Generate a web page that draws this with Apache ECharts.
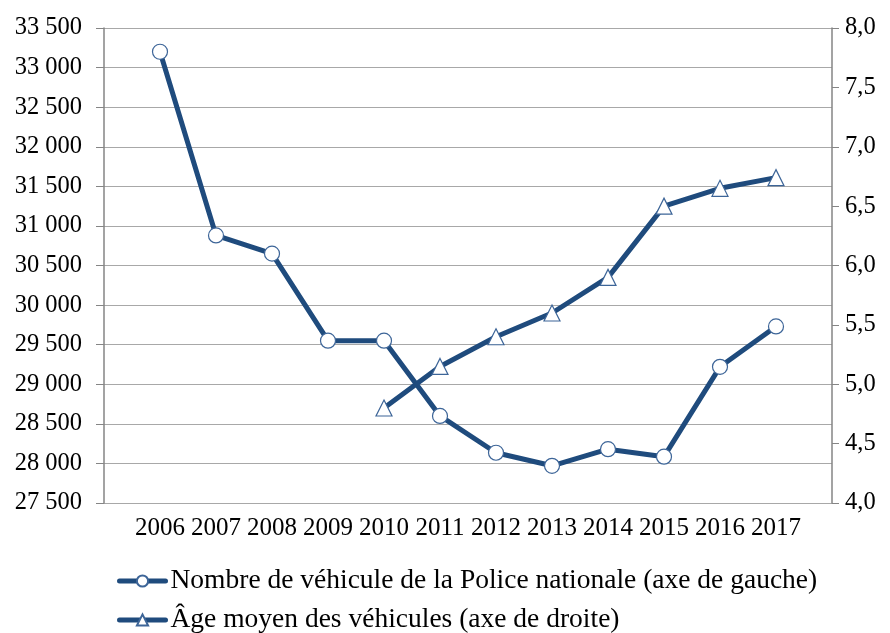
<!DOCTYPE html>
<html>
<head>
<meta charset="utf-8">
<script src="https://cdn.jsdelivr.net/npm/echarts@6/dist/echarts.min.js"></script>
<style>
  html, body { margin: 0; padding: 0; background: #ffffff; }
  #chart { width: 890px; height: 633px; }
</style>
</head>
<body>
<div id="chart"></div>
<script>
// Parc automobile de la Police nationale, 2006-2017
const years = [2006, 2007, 2008, 2009, 2010, 2011, 2012, 2013, 2014, 2015, 2016, 2017];
const vehicleCount = [33200, 30880, 30650, 29550, 29550, 28600, 28135, 27970, 28180, 28085, 29220, 29730];
const averageAge = [null, null, null, null, 4.8, 5.15, 5.4, 5.6, 5.9, 6.5, 6.65, 6.74];
const countName = 'Nombre de véhicule de la Police nationale (axe de gauche)';
const ageName = 'Âge moyen des véhicules (axe de droite)';

const FONT = 'Liberation Serif';
const BLUE = '#1f4b7d';

const pairs = (vals) => years.map((y, i) => [y, vals[i]]);
const thousands = (v) => String(v).replace(/\B(?=(\d{3})+(?!\d))/g, ' ');

const legendBase = {
  left: 115,
  itemWidth: 46,
  itemHeight: 14,
  itemGap: 10,
  padding: 2,
  lineStyle: { width: 5, cap: 'round' },
  textStyle: { fontFamily: FONT, fontSize: 27.5, color: '#000' }
};

const chart = echarts.init(document.getElementById('chart'), null, { renderer: 'canvas' });
chart.setOption({
  animation: false,
  backgroundColor: '#ffffff',
  textStyle: { fontFamily: FONT, color: '#000' },
  grid: { left: 104, right: 58, top: 28, bottom: 130, containLabel: false },
  legend: [
    Object.assign({ top: 565, data: [countName] }, legendBase),
    Object.assign({ top: 604, data: [ageName] }, legendBase)
  ],
  xAxis: {
    type: 'value',
    min: 2005,
    max: 2018,
    interval: 1,
    axisLine: { show: false },
    axisTick: { show: false },
    splitLine: { show: false },
    axisLabel: {
      showMinLabel: false,
      showMaxLabel: false,
      fontFamily: FONT,
      fontSize: 25,
      color: '#000',
      margin: 13,
      formatter: (v) => String(v)
    }
  },
  yAxis: [
    {
      type: 'value',
      min: 27500,
      max: 33500,
      interval: 500,
      axisLine: { show: true, lineStyle: { color: '#858585', width: 1.5 } },
      axisTick: { show: true, length: 8, lineStyle: { color: '#858585' } },
      splitLine: { show: true, lineStyle: { color: '#a8a8a8', width: 1 } },
      axisLabel: {
        fontFamily: FONT, fontSize: 24.5, color: '#000', margin: 22,
        formatter: (v) => thousands(v)
      }
    },
    {
      type: 'value',
      min: 4,
      max: 8,
      interval: 0.5,
      position: 'right',
      axisLine: { show: true, lineStyle: { color: '#858585', width: 1.5 } },
      axisTick: { show: true, length: 7, lineStyle: { color: '#858585' } },
      splitLine: { show: false },
      axisLabel: {
        fontFamily: FONT, fontSize: 24.5, color: '#000', margin: 13,
        formatter: (v) => v.toFixed(1).replace('.', ',')
      }
    }
  ],
  series: [
    {
      name: countName,
      type: 'line',
      yAxisIndex: 0,
      data: pairs(vehicleCount),
      symbol: 'circle',
      symbolSize: 15,
      lineStyle: { color: BLUE, width: 5, cap: 'round' },
      itemStyle: { color: '#ffffff', borderColor: '#3d6598', borderWidth: 1.2 },
      z: 3
    },
    {
      name: ageName,
      type: 'line',
      yAxisIndex: 1,
      data: pairs(averageAge),
      symbol: 'triangle',
      symbolSize: 16,
      lineStyle: { color: BLUE, width: 5, cap: 'round' },
      itemStyle: { color: '#ffffff', borderColor: '#3d6598', borderWidth: 1.2 },
      z: 3
    }
  ]
});
</script>
</body>
</html>
